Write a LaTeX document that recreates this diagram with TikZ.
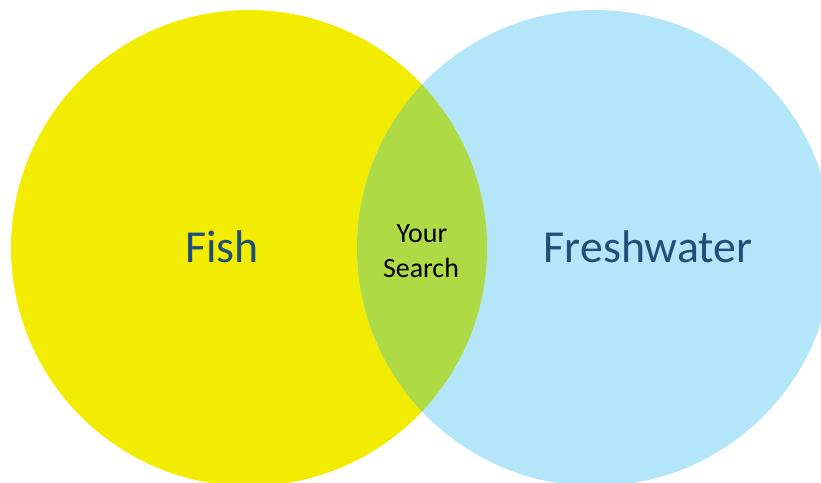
\documentclass[tikz,border=0pt]{standalone}
\usepackage{fontspec}
\setmainfont{Carlito}
\definecolor{fishyellow}{HTML}{F2EC00}
\definecolor{waterblue}{HTML}{B3E6F8}
\definecolor{overlapgreen}{HTML}{AEDA45}
\definecolor{labelblue}{HTML}{1F4E79}
\begin{document}
\begin{tikzpicture}[x=1bp,y=-1bp,
  setlabel/.style={font=\fontsize{46}{55}\selectfont, text=labelblue, inner sep=0pt, anchor=base},
  searchlabel/.style={font=\fontsize{28}{35}\selectfont, text=black, align=center, inner sep=0pt}]
\useasboundingbox (0,0) rectangle (821,483);
\fill[fishyellow] (249,248) circle[radius=238];
\fill[waterblue] (595,248) circle[radius=238];
\begin{scope}
  \clip (249,248) circle[radius=238];
  \fill[overlapgreen] (595,248) circle[radius=238];
\end{scope}
\node[setlabel] (fish) at (222,263) {Fish};
\node[setlabel] (fresh) at (648,263) {Freshwater};
\node[searchlabel, anchor=base] (your) at (422,243) {Your};
\node[searchlabel, anchor=base] (search) at (421,278) {Search};
\end{tikzpicture}
\end{document}
